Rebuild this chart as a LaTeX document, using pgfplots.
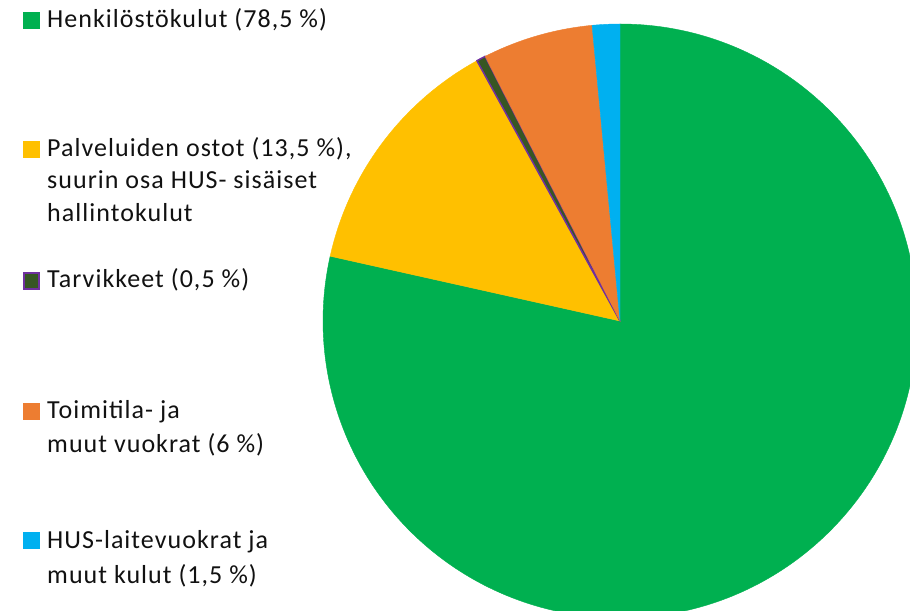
\documentclass[border=0pt]{standalone}
\usepackage{pgfplots}
\usepackage{pgfplotstable}
\pgfplotsset{compat=1.18}
\usepackage{fontspec}
\setmainfont[LetterSpace=4.0]{Carlito}
\definecolor{c0}{HTML}{00B050}
\definecolor{c1}{HTML}{FFC000}
\definecolor{c2}{HTML}{375623}
\definecolor{c3}{HTML}{ED7D31}
\definecolor{c4}{HTML}{00B0F0}
\definecolor{purp}{HTML}{7030A0}
\definecolor{txt}{HTML}{111111}
\pgfplotstableread{
idx value
0 78.5
1 13.5
2 0.5
3 6
4 1.5
}\piedata
\begin{document}
\begin{tikzpicture}
\begin{axis}[scale only axis, width=910bp, height=611bp,
  xmin=0, xmax=910, ymin=0, ymax=611, hide axis, clip=true,
  at={(0,0)}, anchor=south west]
\gdef\startang{90}
\pgfplotsforeachungrouped \i in {0,...,4} {%
  \pgfplotstablegetelem{\i}{value}\of\piedata
  \let\v\pgfplotsretval
  \pgfmathsetmacro\endang{\startang-3.6*\v}%
  \ifnum\i=2
    \edef\temp{\noexpand\filldraw[fill=c2, draw=purp, line width=1.5bp, line join=round] (axis cs:620,290) -- ++(\startang:297bp) arc[start angle=\startang, end angle=\endang, radius=297bp] -- cycle;}%
  \else
    \edef\temp{\noexpand\filldraw[fill=c\i, draw=c\i, line width=0.4bp] (axis cs:620,290) -- ++(\startang:297bp) arc[start angle=\startang, end angle=\endang, radius=297bp] -- cycle;}%
  \fi
  \temp
  \global\let\startang\endang
}
% legend
\fill[c0] (axis cs:23,582) rectangle (axis cs:40,599);
\fill[c1] (axis cs:23,453) rectangle (axis cs:40,470);
\filldraw[fill=c2, draw=purp, line width=1.5bp] (axis cs:24,322) rectangle (axis cs:39,338);
\fill[c3] (axis cs:23,191) rectangle (axis cs:40,208);
\fill[c4] (axis cs:23,62) rectangle (axis cs:40,79);
\begin{scope}[every node/.style={anchor=base west, inner sep=0pt, text=txt, font=\fontsize{26bp}{32bp}\selectfont}]
\node at (axis cs:47,583) {Henkilöstökulut (78,5~\%)};
\node at (axis cs:47,454) {Palveluiden ostot (13,5~\%),};
\node at (axis cs:47,422) {suurin osa HUS- sisäiset};
\node at (axis cs:47,389) {hallintokulut};
\node at (axis cs:47,323) {Tarvikkeet (0,5~\%)};
\node at (axis cs:47,192) {Toimitila- ja};
\node at (axis cs:47,158) {muut vuokrat (6~\%)};
\node at (axis cs:47,62) {HUS-laitevuokrat ja};
\node at (axis cs:47,28) {muut kulut (1,5~\%)};
\end{scope}
\end{axis}
\pgfresetboundingbox
\useasboundingbox (0,0) rectangle (910bp,611bp);
\end{tikzpicture}
\end{document}
